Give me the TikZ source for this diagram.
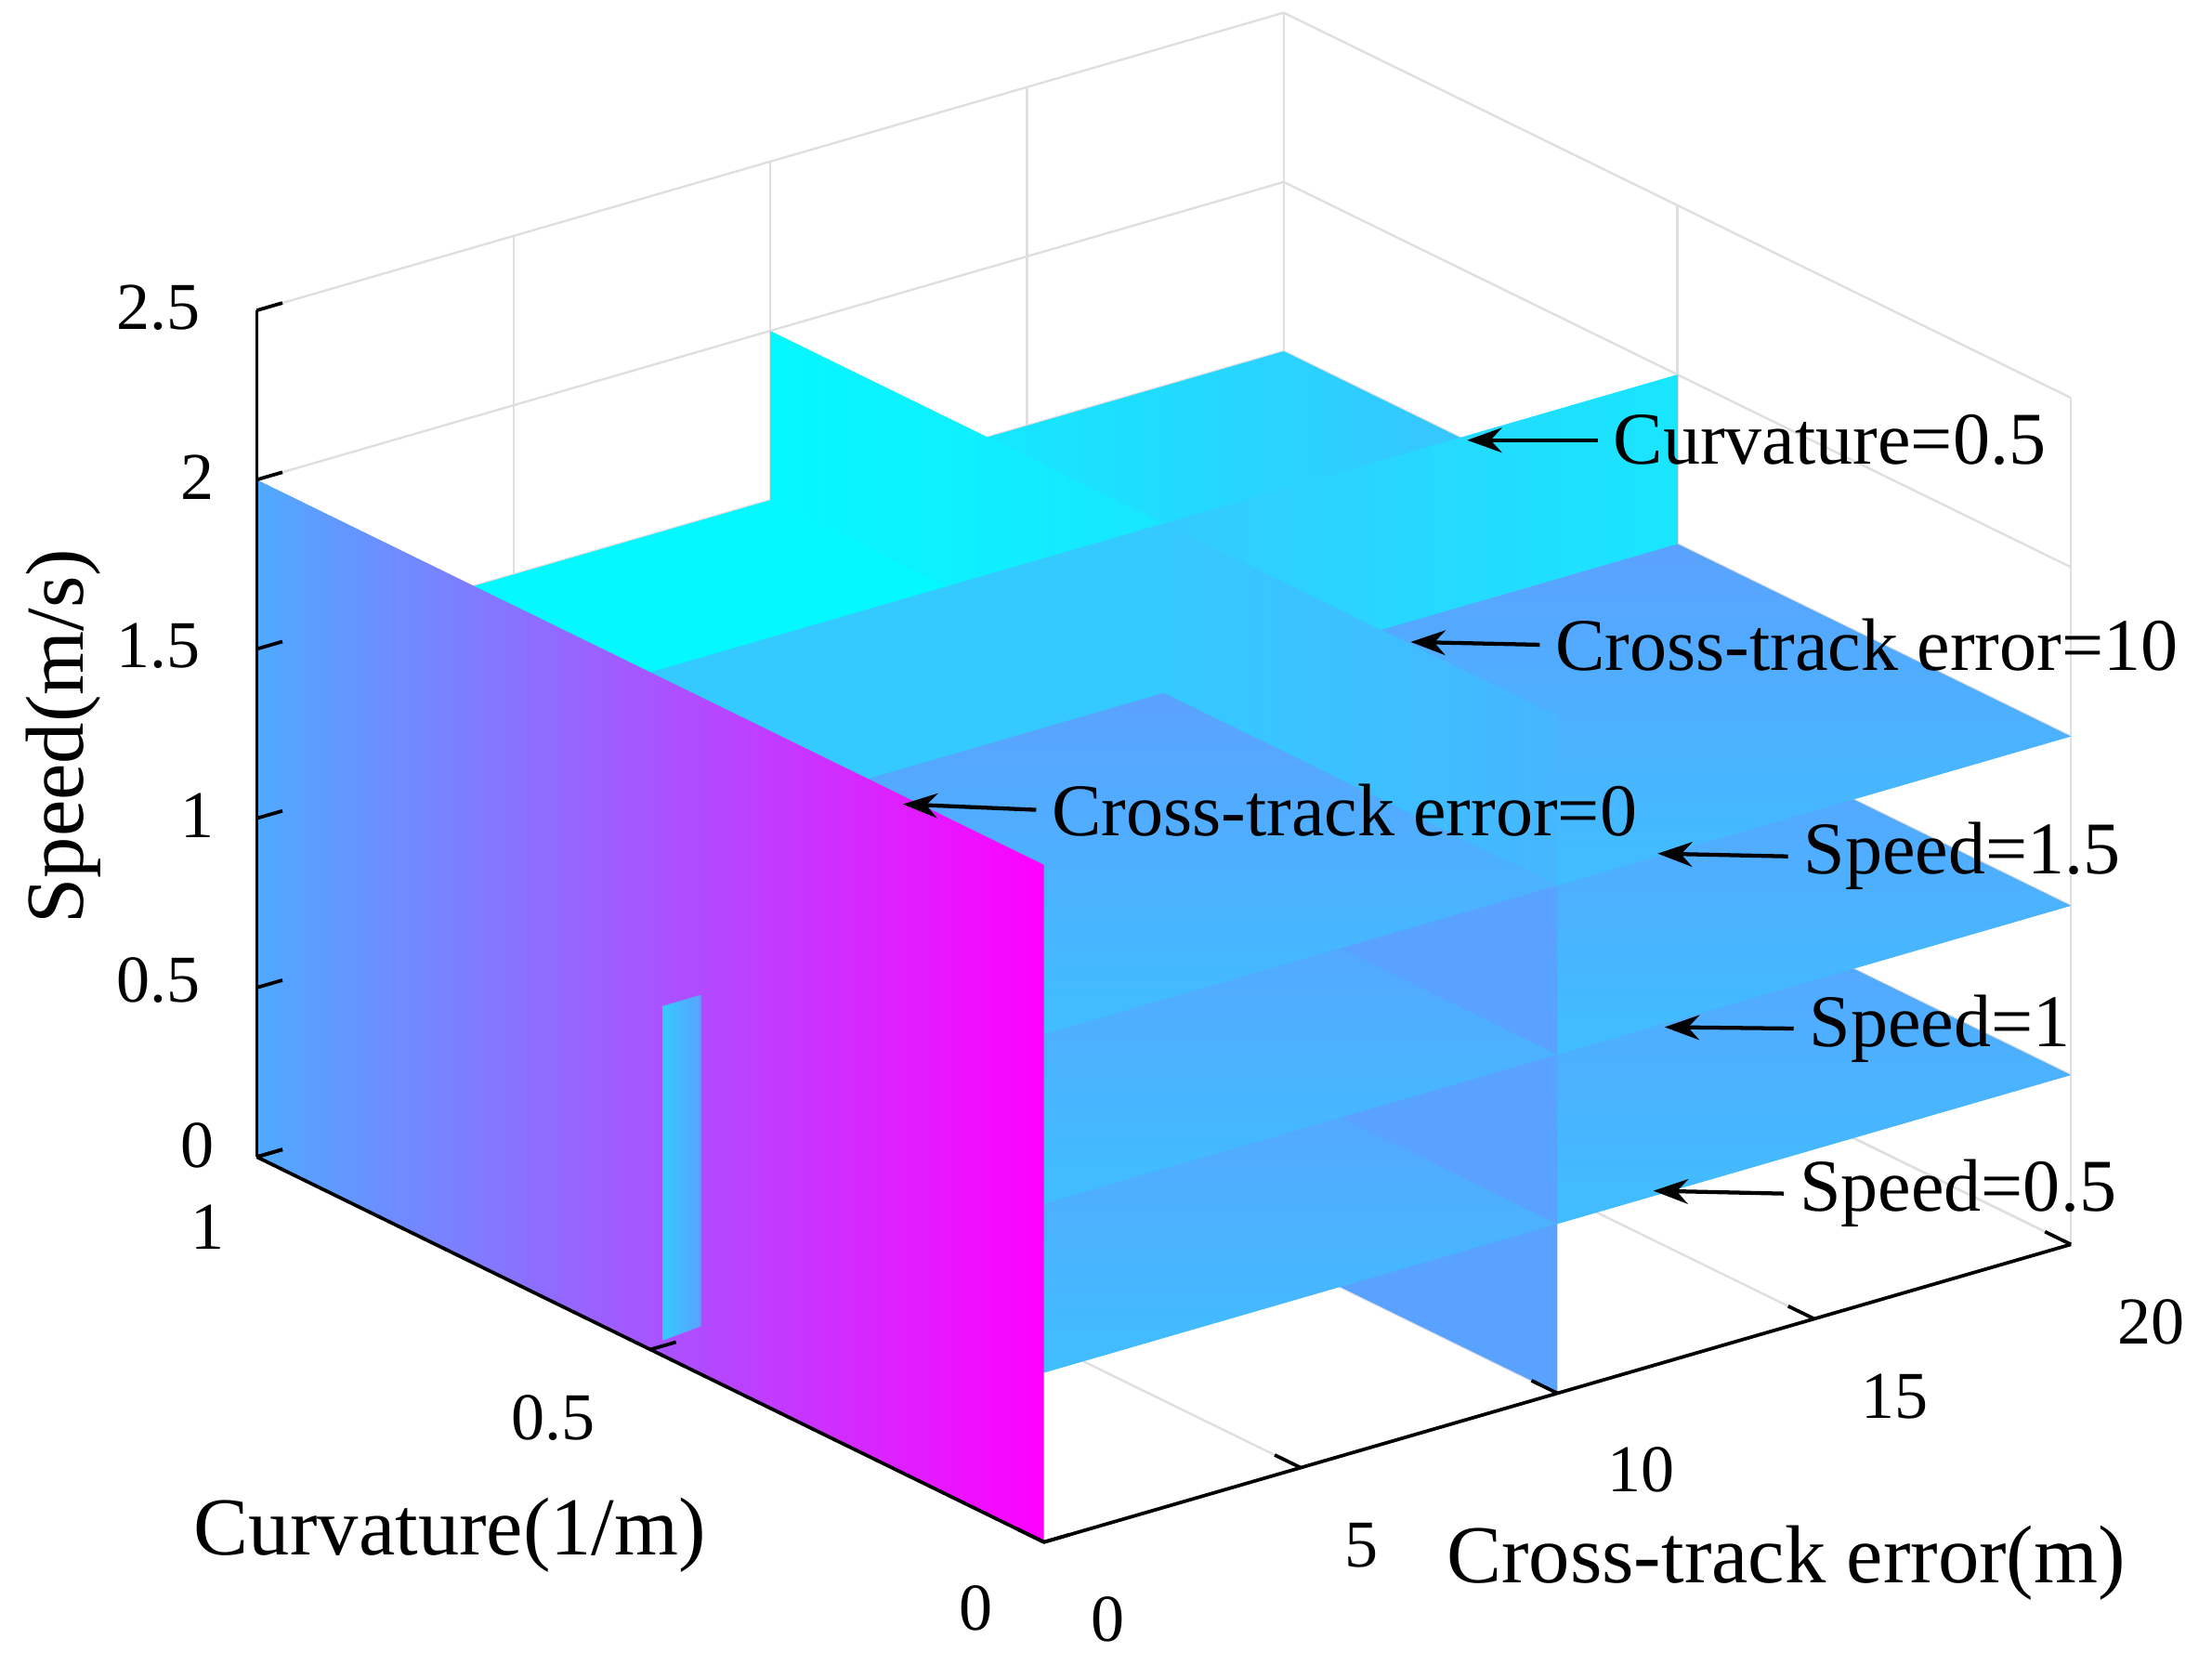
\documentclass[tikz,border=0pt]{standalone}
\usepackage{fontspec}
\setmainfont{Liberation Serif}
\usetikzlibrary{arrows.meta}
\definecolor{cy}{HTML}{04F8FF}
\definecolor{cA}{HTML}{18E6FF}
\definecolor{cB}{HTML}{40BEFF}
\definecolor{cC}{HTML}{34CAFF}
\definecolor{cD}{HTML}{46B6FF}
\definecolor{cE}{HTML}{5AA2FF}
\definecolor{mag}{HTML}{FF00FF}
\definecolor{lb}{HTML}{4FAAFF}
\newcommand\hq[7]{\shade[left color=#6,right color=#7] (#1,#3,#5)--(#2,#3,#5)--(#2,#4,#5)--(#1,#4,#5)--cycle;}
\newcommand\hn[5]{\shade[top color=cE,bottom color=cB] (#1,#3,#5)--(#2,#3,#5)--(#2,#4,#5)--(#1,#4,#5)--cycle;}
\newcommand\ev[6]{\shade[left color=#5,right color=#6] (10,#1,#3)--(10,#2,#3)--(10,#2,#4)--(10,#1,#4)--cycle;}
\newcommand\en[4]{\fill[cE] (10,#1,#3)--(10,#2,#3)--(10,#2,#4)--(10,#1,#4)--cycle;}
\newcommand\cv[6]{\shade[left color=#5,right color=#6] (#1,0.5,#3)--(#2,0.5,#3)--(#2,0.5,#4)--(#1,0.5,#4)--cycle;}
\begin{document}
\begin{tikzpicture}[grid/.style={gray!25,line width=0.45pt},
  ax/.style={black,line width=0.7pt},
  lab/.style={font=\fontsize{13.5}{15}\selectfont,inner sep=0pt},
  alab/.style={font=\fontsize{16.6}{18}\selectfont,inner sep=0pt},
  tlab/.style={font=\fontsize{15}{17}\selectfont,inner sep=0pt,anchor=west},
  ann/.style={-{Stealth[length=7pt,width=5pt]},line width=0.8pt}]
\useasboundingbox (0,0) rectangle (15.68,11.80);
\begin{scope}[x={(0.364cm,0.1055cm)},y={(-5.58cm,2.73cm)},z={(0cm,2.4cm)},shift={(7.40cm,0.87cm)}]
% grid walls
\foreach \e in {0,5,...,20}{\draw[grid] (\e,1,0)--(\e,1,2.5); \draw[grid] (\e,0,0)--(\e,1,0);}
\foreach \c in {0,0.5,1}{\draw[grid] (20,\c,0)--(20,\c,2.5); \draw[grid] (0,\c,0)--(20,\c,0);}
\foreach \s in {0,0.5,...,2.5}{\draw[grid] (0,1,\s)--(20,1,\s)--(20,0,\s);}
% err [10,20], curv [.5,1]
\hq{10}{20}{0.5}{1}{0.5}{cy}{cD}
\hq{10}{20}{0.5}{1}{1}{cy}{cD}
\hq{10}{20}{0.5}{1}{1.5}{cy}{cD}
% err [10,20], curv [0,.5]
\cv{10}{20}{0}{0.5}{cC}{cA}
\hn{10}{20}{0}{0.5}{0.5}\cv{10}{20}{0.5}{1}{cC}{cA}
\hn{10}{20}{0}{0.5}{1}\cv{10}{20}{1}{1.5}{cC}{cA}
\hn{10}{20}{0}{0.5}{1.5}\cv{10}{20}{1.5}{2}{cC}{cA}
% err [0,10], curv [.5,1]
\ev{0.5}{1}{0}{0.5}{cy}{cA}
\hq{0}{10}{0.5}{1}{0.5}{cy}{cy}\ev{0.5}{1}{0.5}{1}{cy}{cA}
\hq{0}{10}{0.5}{1}{1}{cy}{cy}\ev{0.5}{1}{1}{1.5}{cy}{cA}
\hq{0}{10}{0.5}{1}{1.5}{cy}{cy}\ev{0.5}{1}{1.5}{2}{cy}{cA}
% err [0,10], curv [0,.5]
\en{0}{0.5}{0}{0.5}\cv{0}{10}{0}{0.5}{cC}{cC}
\hn{0}{10}{0}{0.5}{0.5}\en{0}{0.5}{0.5}{1}\cv{0}{10}{0.5}{1}{cC}{cC}
\hn{0}{10}{0}{0.5}{1}\en{0}{0.5}{1}{1.5}\cv{0}{10}{1}{1.5}{cC}{cC}
\hn{0}{10}{0}{0.5}{1.5}\ev{0}{0.5}{1.5}{2}{cC}{cD}\cv{0}{10}{1.5}{2}{cC}{cC}
% err=0 plane
\shade[left color=lb,right color=mag] (0,0,0)--(0,1,0)--(0,1,2)--(0,0,2)--cycle;
% axes
\draw[ax] (0,1,0)--(0,1,2.5);
\draw[ax] (0,1,0)--(0,0,0)--(20,0,0);
\foreach \s in {0,0.5,...,2.5}{\draw[ax] (0,1,\s)--++(0.5,0,0);}
\foreach \c in {0,0.5,1}{\draw[ax] (0,\c,0)--++(0.5,0,0);}
\foreach \e in {0,5,...,20}{\draw[ax] (\e,0,0)--++(0,0.033,0);}
\end{scope}
% strip
\shade[left color=cC,right color=cE] (4.70,4.67)--(4.97,4.75)--(4.97,2.40)--(4.70,2.30)--cycle;
% tick labels
\foreach \t/\x/\y in {0/140/812,0.5/112/695,1/140/578,1.5/112/458,2/140/338,2.5/112/218}
  \node[lab] at (\x/100,11.80-\y/100) {\t};
\foreach \t/\x/\y in {0/692/1140,0.5/392/1005,1/147/870}
  \node[lab] at (\x/100,11.80-\y/100) {\t};
\foreach \t/\x/\y in {0/785/1148,5/965/1095,10/1163/1042,15/1343/990,20/1525/937}
  \node[lab] at (\x/100,11.80-\y/100) {\t};
\node[alab,rotate=90] (zl) at (0.45,11.80-5.22) {Speed(m/s)};
\node[alab] (cl) at (3.19,11.80-10.88) {Curvature(1/m)};
\node[alab] (el) at (12.66,11.80-11.08) {Cross-track error(m)};
% annotations
\node[tlab] (t1) at (11.43,11.80-3.12) {Curvature=0.5};
\node[tlab] (t2) at (11.02,11.80-4.57) {Cross-track error=10};
\node[tlab] (t3) at (7.45,11.80-5.74) {Cross-track error=0};
\node[tlab] (t4) at (12.78,11.80-6.07) {Speed=1.5};
\node[tlab] (t5) at (12.82,11.80-7.29) {Speed=1};
\node[tlab] (t6) at (12.75,11.80-8.46) {Speed=0.5};
\coordinate (p1) at (10.40,11.80-3.12);
\coordinate (p2) at (10.00,11.80-4.55);
\coordinate (p3) at (6.40,11.80-5.70);
\coordinate (p4) at (11.75,11.80-6.05);
\coordinate (p5) at (11.80,11.80-7.28);
\coordinate (p6) at (11.72,11.80-8.44);
\foreach \i in {1,...,6}{\draw[ann] ([xshift=-3pt]t\i.west)--(p\i);}
\end{tikzpicture}
\end{document}
